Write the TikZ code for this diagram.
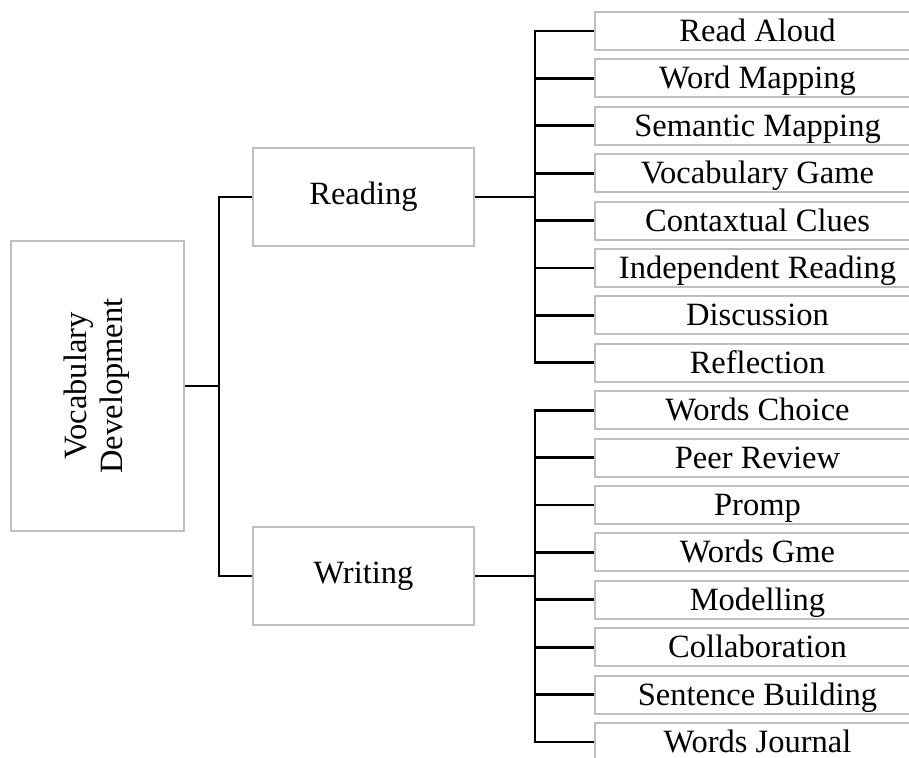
\documentclass[tikz,border=0pt]{standalone}
\usepackage{fontspec}
\setmainfont{Liberation Serif}
\definecolor{grisCaja}{HTML}{BFBFBF}

\begin{document}
\begin{tikzpicture}[
    caja/.style={rectangle, draw=grisCaja, line width=1.1pt, fill=white, inner sep=0pt,
                 align=center, font=\fontsize{18.5}{20.5}\selectfont},
    cajam/.style={caja, minimum width=3.46cm, minimum height=5.8cm},
    cajar/.style={caja, minimum width=4.42cm, minimum height=1.96cm},
    cajap/.style={caja, minimum width=6.5cm, minimum height=0.76cm,
                  text height=13pt, text depth=1pt},
    linea/.style={draw=black, line width=1.5pt}
  ]
  \clip (0,0) rectangle (18.18,-15.16);

  % Caja principal
  \node[cajam] (vocab) at (1.95,-7.72) {\rotatebox{90}{\begin{tabular}{c}Vocabulary\\ Development\end{tabular}}};

  % Ramas
  \node[cajar] (reading) at (7.27,-3.94) {Reading};
  \node[cajar] (writing) at (7.27,-11.52) {Writing};

  \coordinate (tronco) at (4.38,-7.72);
  \coordinate (brRead) at (10.7,-3.94);
  \coordinate (brWrit) at (10.7,-11.52);

  % Estrategias de lectura
  \foreach \t [count=\i] in {Read Aloud, Word Mapping, Semantic Mapping, Vocabulary Game,
                             Contaxtual Clues, Independent Reading, Discussion, Reflection} {
    \node[cajap] (r\i) at (15.15,{-(0.62+0.948*(\i-1))}) {\t};
    \draw[linea] (brRead) |- (r\i.west);
  }

  % Estrategias de escritura
  \foreach \t [count=\i] in {Words Choice, Peer Review, Promp, Words Gme,
                             Modelling, Collaboration, Sentence Building, Words Journal} {
    \node[cajap] (w\i) at (15.15,{-(0.62+0.948*(\i+7))}) {\t};
    \draw[linea] (brWrit) |- (w\i.west);
  }

  \draw[linea] (vocab.east) -- (tronco);
  \draw[linea] (tronco) |- (reading.west);
  \draw[linea] (tronco) |- (writing.west);
  \draw[linea] (reading.east) -- (brRead);
  \draw[linea] (writing.east) -- (brWrit);
\end{tikzpicture}
\end{document}
